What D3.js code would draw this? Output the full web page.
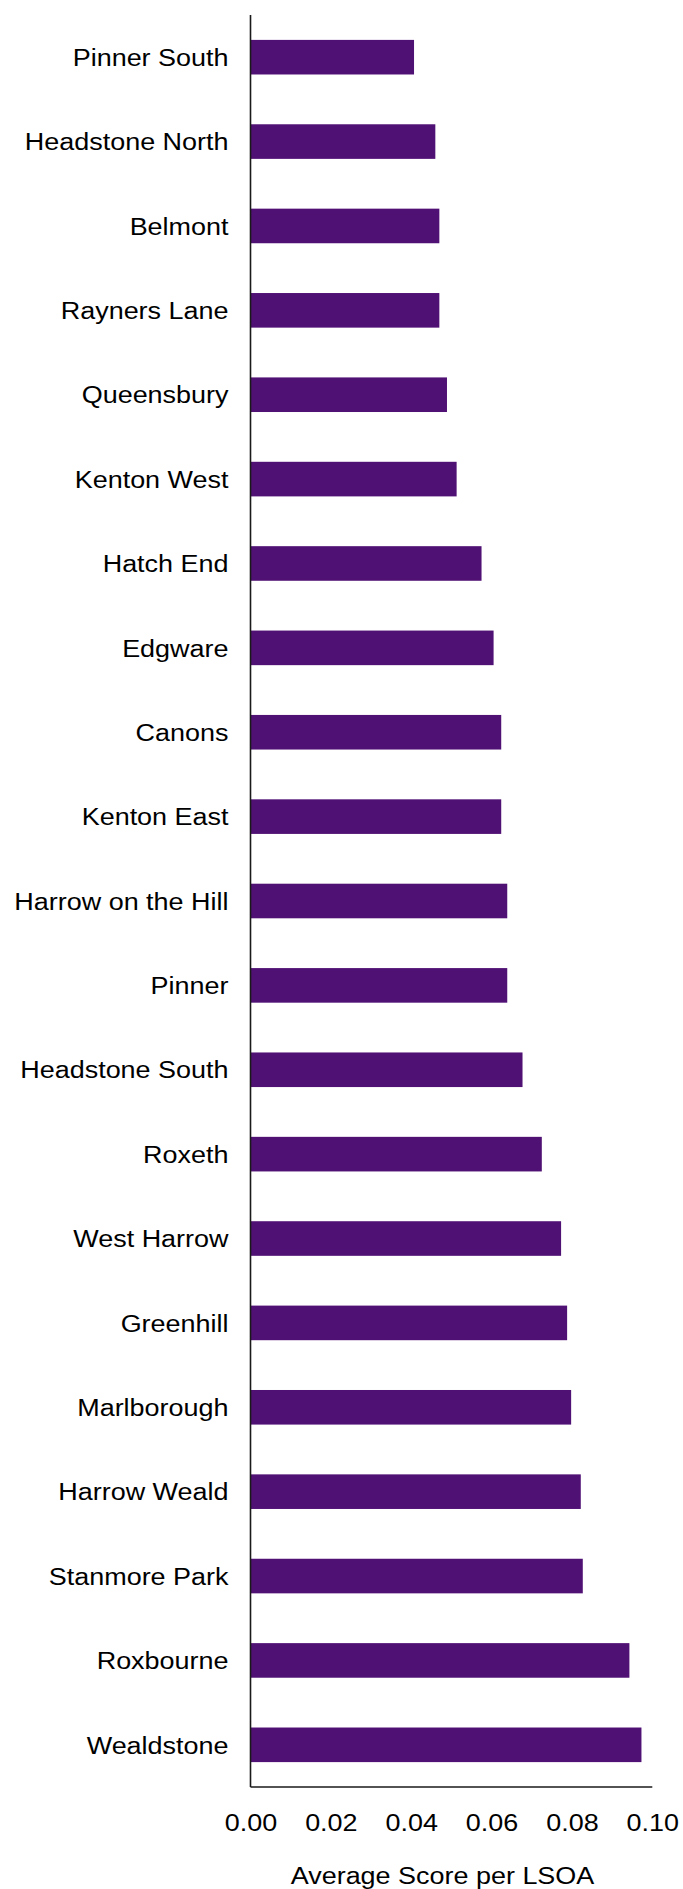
<!DOCTYPE html>
<html>
<head>
<meta charset="utf-8">
<script src="https://cdn.jsdelivr.net/npm/d3@7"></script>
<style>
  html, body { margin: 0; padding: 0; background: #ffffff; }
  svg { display: block; }
  text { font-family: Arial, "Liberation Sans", sans-serif; fill: #000; }
</style>
</head>
<body>
<svg id="chart" width="683" height="1889"></svg>
<script>
const categories = [
  "Pinner South", "Headstone North", "Belmont", "Rayners Lane", "Queensbury",
  "Kenton West", "Hatch End", "Edgware", "Canons", "Kenton East",
  "Harrow on the Hill", "Pinner", "Headstone South", "Roxeth", "West Harrow",
  "Greenhill", "Marlborough", "Harrow Weald", "Stanmore Park", "Roxbourne", "Wealdstone"
];
const values = [
  0.0407, 0.0460, 0.0470, 0.0470, 0.0489,
  0.0513, 0.0575, 0.0605, 0.0624, 0.0624,
  0.0639, 0.0639, 0.0677, 0.0725, 0.0773,
  0.0788, 0.0798, 0.0822, 0.0827, 0.0943, 0.0973
];
const xTicks = [0, 0.02, 0.04, 0.06, 0.08, 0.10];
const xTitle = "Average Score per LSOA";

(function () {
const svg = d3.select("#chart");
const pLeft = 250.5, pRight = 652.3, pTop = 15, pBottom = 1787;
const fontSize = 24.5, stretch = 1.1;

const x = d3.scaleLinear().domain([0, 0.10]).range([pLeft, pRight]);
const y = d3.scaleBand().domain(categories).range([pTop, pBottom])
  .paddingInner(0.59).paddingOuter(0.295);

// bars
svg.append("g").selectAll("rect")
  .data(categories.map((c, i) => ({c, v: values[i]})))
  .join("rect")
  .attr("x", x(0))
  .attr("y", d => y(d.c))
  .attr("width", d => x(d.v) - x(0))
  .attr("height", y.bandwidth())
  .attr("fill", "#501174");

// category labels
svg.append("g").selectAll("text")
  .data(categories)
  .join("text")
  .attr("transform", d => `translate(228.5,${y(d) + y.bandwidth() / 2 + 8.7}) scale(${stretch},1)`)
  .attr("text-anchor", "end")
  .style("font-size", fontSize + "px")
  .text(d => d);

// x axis (tick labels via d3 axis)
const xAxis = d3.axisBottom(x).tickValues(xTicks).tickSize(0).tickPadding(0)
  .tickFormat(d3.format(".2f"));
const gx = svg.append("g").attr("transform", `translate(0,${pBottom})`).call(xAxis);
gx.select(".domain").remove();
gx.attr("font-size", null).attr("font-family", null);
gx.selectAll(".tick text")
  .attr("y", 0).attr("dy", null)
  .attr("transform", `translate(0,43.5) scale(${stretch},1)`)
  .attr("text-anchor", "middle")
  .attr("fill", "#000")
  .style("font-size", fontSize + "px");

// axis lines
svg.append("line")
  .attr("x1", pLeft).attr("x2", pLeft).attr("y1", pTop).attr("y2", pBottom)
  .attr("stroke", "#1a1a1a").attr("stroke-width", 1.6);
svg.append("line")
  .attr("x1", pLeft).attr("x2", pRight).attr("y1", pBottom).attr("y2", pBottom)
  .attr("stroke", "#1a1a1a").attr("stroke-width", 1.6);

// x title
svg.append("text")
  .attr("transform", `translate(442.5,1884) scale(${stretch},1)`)
  .attr("text-anchor", "middle")
  .style("font-size", fontSize + "px")
  .text(xTitle);
})();
</script>
</body>
</html>
